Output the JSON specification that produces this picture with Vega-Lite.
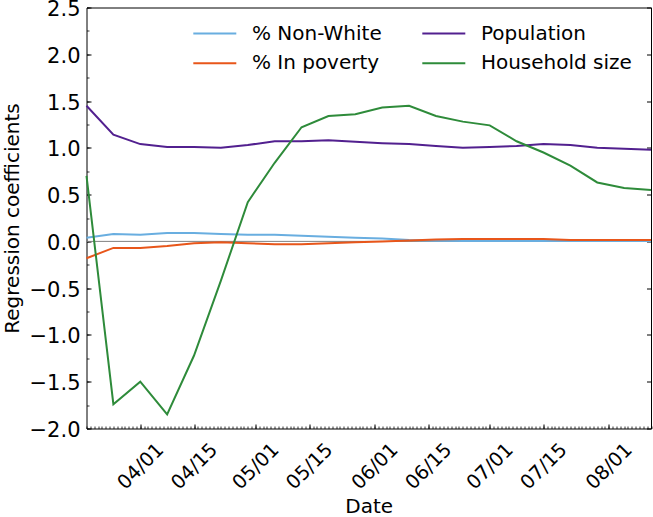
{
  "$schema": "https://vega.github.io/schema/vega-lite/v6.json",
  "width": 564.5,
  "height": 421,
  "autosize": {"type": "none"},
  "padding": {"left": 86.5, "top": 7.5, "right": 2, "bottom": 88.5},
  "background": "white",
  "config": {
    "view": {"stroke": "black", "strokeWidth": 1},
    "font": "DejaVu Sans",
    "axis": {"grid": false, "labelFont": "DejaVu Sans", "titleFont": "DejaVu Sans", "labelColor": "black", "titleColor": "black", "tickColor": "black", "titleFontWeight": "normal", "labelOverlap": false, "labelFlush": false}
  },
  "data": {"values": [
    {"d": "2020-03-18T00:00", "s": "% Non-White", "v": 0.04}, {"d": "2020-03-25T00:00", "s": "% Non-White", "v": 0.08}, {"d": "2020-04-01T00:00", "s": "% Non-White", "v": 0.07}, {"d": "2020-04-08T00:00", "s": "% Non-White", "v": 0.09}, {"d": "2020-04-15T00:00", "s": "% Non-White", "v": 0.09}, {"d": "2020-04-22T00:00", "s": "% Non-White", "v": 0.08}, {"d": "2020-04-29T00:00", "s": "% Non-White", "v": 0.07}, {"d": "2020-05-06T00:00", "s": "% Non-White", "v": 0.07}, {"d": "2020-05-13T00:00", "s": "% Non-White", "v": 0.06}, {"d": "2020-05-20T00:00", "s": "% Non-White", "v": 0.05}, {"d": "2020-05-27T00:00", "s": "% Non-White", "v": 0.04}, {"d": "2020-06-03T00:00", "s": "% Non-White", "v": 0.03}, {"d": "2020-06-10T00:00", "s": "% Non-White", "v": 0.015}, {"d": "2020-06-17T00:00", "s": "% Non-White", "v": 0.008}, {"d": "2020-06-24T00:00", "s": "% Non-White", "v": 0.004}, {"d": "2020-07-01T00:00", "s": "% Non-White", "v": 0.003}, {"d": "2020-07-08T00:00", "s": "% Non-White", "v": 0.003}, {"d": "2020-07-15T00:00", "s": "% Non-White", "v": 0.003}, {"d": "2020-07-22T00:00", "s": "% Non-White", "v": 0.003}, {"d": "2020-07-29T00:00", "s": "% Non-White", "v": 0.003}, {"d": "2020-08-05T00:00", "s": "% Non-White", "v": 0.003}, {"d": "2020-08-12T00:00", "s": "% Non-White", "v": 0.003},
    {"d": "2020-03-18T00:00", "s": "% In poverty", "v": -0.18}, {"d": "2020-03-25T00:00", "s": "% In poverty", "v": -0.07}, {"d": "2020-04-01T00:00", "s": "% In poverty", "v": -0.07}, {"d": "2020-04-08T00:00", "s": "% In poverty", "v": -0.05}, {"d": "2020-04-15T00:00", "s": "% In poverty", "v": -0.02}, {"d": "2020-04-22T00:00", "s": "% In poverty", "v": -0.01}, {"d": "2020-04-29T00:00", "s": "% In poverty", "v": -0.02}, {"d": "2020-05-06T00:00", "s": "% In poverty", "v": -0.03}, {"d": "2020-05-13T00:00", "s": "% In poverty", "v": -0.03}, {"d": "2020-05-20T00:00", "s": "% In poverty", "v": -0.02}, {"d": "2020-05-27T00:00", "s": "% In poverty", "v": -0.01}, {"d": "2020-06-03T00:00", "s": "% In poverty", "v": 0.0}, {"d": "2020-06-10T00:00", "s": "% In poverty", "v": 0.01}, {"d": "2020-06-17T00:00", "s": "% In poverty", "v": 0.02}, {"d": "2020-06-24T00:00", "s": "% In poverty", "v": 0.025}, {"d": "2020-07-01T00:00", "s": "% In poverty", "v": 0.025}, {"d": "2020-07-08T00:00", "s": "% In poverty", "v": 0.025}, {"d": "2020-07-15T00:00", "s": "% In poverty", "v": 0.025}, {"d": "2020-07-22T00:00", "s": "% In poverty", "v": 0.015}, {"d": "2020-07-29T00:00", "s": "% In poverty", "v": 0.015}, {"d": "2020-08-05T00:00", "s": "% In poverty", "v": 0.015}, {"d": "2020-08-12T00:00", "s": "% In poverty", "v": 0.015},
    {"d": "2020-03-18T00:00", "s": "Population", "v": 1.45}, {"d": "2020-03-25T00:00", "s": "Population", "v": 1.14}, {"d": "2020-04-01T00:00", "s": "Population", "v": 1.04}, {"d": "2020-04-08T00:00", "s": "Population", "v": 1.01}, {"d": "2020-04-15T00:00", "s": "Population", "v": 1.01}, {"d": "2020-04-22T00:00", "s": "Population", "v": 1.0}, {"d": "2020-04-29T00:00", "s": "Population", "v": 1.03}, {"d": "2020-05-06T00:00", "s": "Population", "v": 1.07}, {"d": "2020-05-13T00:00", "s": "Population", "v": 1.07}, {"d": "2020-05-20T00:00", "s": "Population", "v": 1.08}, {"d": "2020-05-27T00:00", "s": "Population", "v": 1.065}, {"d": "2020-06-03T00:00", "s": "Population", "v": 1.05}, {"d": "2020-06-10T00:00", "s": "Population", "v": 1.04}, {"d": "2020-06-17T00:00", "s": "Population", "v": 1.02}, {"d": "2020-06-24T00:00", "s": "Population", "v": 1.0}, {"d": "2020-07-01T00:00", "s": "Population", "v": 1.01}, {"d": "2020-07-08T00:00", "s": "Population", "v": 1.02}, {"d": "2020-07-15T00:00", "s": "Population", "v": 1.04}, {"d": "2020-07-22T00:00", "s": "Population", "v": 1.03}, {"d": "2020-07-29T00:00", "s": "Population", "v": 1.0}, {"d": "2020-08-05T00:00", "s": "Population", "v": 0.99}, {"d": "2020-08-12T00:00", "s": "Population", "v": 0.98},
    {"d": "2020-03-18T00:00", "s": "Household size", "v": 0.7}, {"d": "2020-03-25T00:00", "s": "Household size", "v": -1.74}, {"d": "2020-04-01T00:00", "s": "Household size", "v": -1.5}, {"d": "2020-04-08T00:00", "s": "Household size", "v": -1.85}, {"d": "2020-04-15T00:00", "s": "Household size", "v": -1.22}, {"d": "2020-04-22T00:00", "s": "Household size", "v": -0.42}, {"d": "2020-04-29T00:00", "s": "Household size", "v": 0.42}, {"d": "2020-05-06T00:00", "s": "Household size", "v": 0.84}, {"d": "2020-05-13T00:00", "s": "Household size", "v": 1.22}, {"d": "2020-05-20T00:00", "s": "Household size", "v": 1.34}, {"d": "2020-05-27T00:00", "s": "Household size", "v": 1.36}, {"d": "2020-06-03T00:00", "s": "Household size", "v": 1.43}, {"d": "2020-06-10T00:00", "s": "Household size", "v": 1.45}, {"d": "2020-06-17T00:00", "s": "Household size", "v": 1.34}, {"d": "2020-06-24T00:00", "s": "Household size", "v": 1.28}, {"d": "2020-07-01T00:00", "s": "Household size", "v": 1.24}, {"d": "2020-07-08T00:00", "s": "Household size", "v": 1.07}, {"d": "2020-07-15T00:00", "s": "Household size", "v": 0.95}, {"d": "2020-07-22T00:00", "s": "Household size", "v": 0.81}, {"d": "2020-07-29T00:00", "s": "Household size", "v": 0.63}, {"d": "2020-08-05T00:00", "s": "Household size", "v": 0.57}, {"d": "2020-08-12T00:00", "s": "Household size", "v": 0.55}
  ]},
  "layer": [
    {
      "data": {"values": [{"z": 0}]},
      "mark": {"type": "rule", "color": "#808080", "strokeWidth": 1},
      "encoding": {
        "y": {"field": "z", "type": "quantitative", "scale": {"domain": [-2, 2.5], "nice": false, "zero": false}, "axis": null}
      }
    },
    {
      "mark": {"type": "line", "strokeWidth": 2},
      "encoding": {
        "x": {
          "field": "d", "type": "temporal",
          "scale": {"domain": [{"year": 2020, "month": 3, "date": 18}, {"year": 2020, "month": 8, "date": 12}]},
          "axis": {
            "orient": "bottom", "title": "Date", "titleFontSize": 20, "titleX": 282.25, "titleY": 84, "titleAlign": "center", "titleBaseline": "alphabetic",
            "values": [{"year": 2020, "month": 4, "date": 1}, {"year": 2020, "month": 4, "date": 15}, {"year": 2020, "month": 5, "date": 1}, {"year": 2020, "month": 5, "date": 15}, {"year": 2020, "month": 6, "date": 1}, {"year": 2020, "month": 6, "date": 15}, {"year": 2020, "month": 7, "date": 1}, {"year": 2020, "month": 7, "date": 15}, {"year": 2020, "month": 8, "date": 1}],
            "format": "%m/%d", "labelAngle": -45, "labelAlign": "center", "labelBaseline": "middle", "labelPadding": 37.5, "labelFontSize": 19.5,
            "ticks": false, "domain": false
          }
        },
        "y": {
          "field": "v", "type": "quantitative",
          "scale": {"domain": [-2, 2.5], "nice": false, "zero": false},
          "axis": {
            "orient": "left", "title": "Regression coefficients", "titleFontSize": 20, "titleX": -68.5, "titleY": 210.5, "titleAngle": 270, "titleAlign": "center", "titleBaseline": "alphabetic",
            "values": [-2, -1.5, -1, -0.5, 0, 0.5, 1, 1.5, 2, 2.5], "format": ".1f", "labelPadding": 6.5, "labelFontSize": 21, "labelAlign": "right", "labelBaseline": "middle", "labelOffset": 2,
            "ticks": false, "domain": false
          }
        },
        "color": {
          "field": "s", "type": "nominal",
          "scale": {"domain": ["% Non-White", "% In poverty", "Population", "Household size"], "range": ["#69aee0", "#e8561a", "#52208f", "#2e8b3a"]},
          "legend": {
            "title": null, "orient": "none", "legendX": 106.5, "legendY": 7.3, "columns": 2, "padding": 0,
            "symbolType": "M-1.25,0H1.25", "symbolSize": 1183, "symbolStrokeWidth": 2, "symbolOffset": 3.3,
            "labelFontSize": 20, "labelFont": "DejaVu Sans", "labelColor": "black", "labelOffset": 18.6, "columnPadding": 36, "rowPadding": 1
          }
        }
      }
    },
    {
      "mark": {"type": "line", "opacity": 0},
      "encoding": {
        "x": {"field": "d", "type": "temporal", "axis": {"orient": "bottom", "tickCount": {"interval": "day", "step": 1}, "labels": false, "domain": false, "tickSize": -2.5, "tickWidth": 0.8, "title": null}},
        "y": {"field": "v", "type": "quantitative", "axis": {"orient": "left", "values": [-2, -1.75, -1.5, -1.25, -1, -0.75, -0.5, -0.25, 0, 0.25, 0.5, 0.75, 1, 1.25, 1.5, 1.75, 2, 2.25, 2.5], "labels": false, "domain": false, "tickSize": -2.5, "tickWidth": 0.8, "title": null}}
      }
    },
    {
      "mark": {"type": "line", "opacity": 0},
      "encoding": {
        "x": {"field": "d", "type": "temporal", "axis": {"orient": "bottom", "values": [{"year": 2020, "month": 4, "date": 1}, {"year": 2020, "month": 4, "date": 15}, {"year": 2020, "month": 5, "date": 1}, {"year": 2020, "month": 5, "date": 15}, {"year": 2020, "month": 6, "date": 1}, {"year": 2020, "month": 6, "date": 15}, {"year": 2020, "month": 7, "date": 1}, {"year": 2020, "month": 7, "date": 15}, {"year": 2020, "month": 8, "date": 1}], "labels": false, "domain": false, "tickSize": -4.5, "tickWidth": 1, "title": null}},
        "y": {"field": "v", "type": "quantitative", "axis": {"orient": "left", "values": [-2, -1.5, -1, -0.5, 0, 0.5, 1, 1.5, 2, 2.5], "labels": false, "domain": false, "tickSize": -4.5, "tickWidth": 1, "title": null}}
      }
    },
    {
      "mark": {"type": "line", "opacity": 0},
      "encoding": {
        "x": {"field": "d", "type": "temporal", "axis": null},
        "y": {"field": "v", "type": "quantitative", "axis": {"orient": "right", "values": [-2, -1.5, -1, -0.5, 0, 0.5, 1, 1.5, 2, 2.5], "labels": false, "domain": false, "tickSize": -4.5, "tickWidth": 1, "title": null}}
      }
    }
  ],
  "resolve": {"axis": {"x": "independent", "y": "independent"}}
}
